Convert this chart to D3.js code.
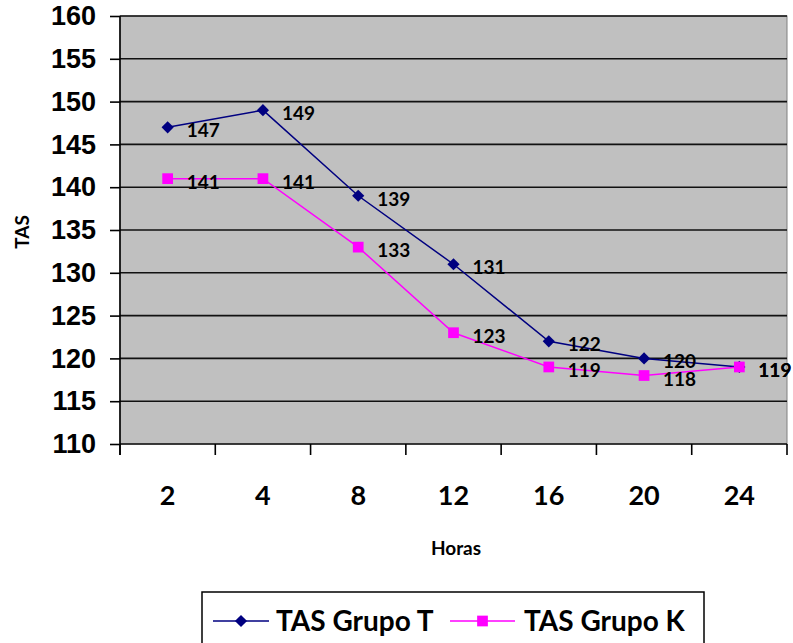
<!DOCTYPE html>
<html>
<head>
<meta charset="utf-8">
<script src="https://cdn.jsdelivr.net/npm/d3@7"></script>
<style>
  html, body { margin: 0; padding: 0; background: #fff; }
  svg { display: block; font-family: Lato, "Open Sans", sans-serif; font-weight: bold; }
</style>
</head>
<body>
<svg id="chart" width="793" height="643"></svg>
<script>
// Hours after the procedure
const horas = ["2", "4", "8", "12", "16", "20", "24"];
// Systolic pressure (TAS) per group
const tasGrupoT = [147, 149, 139, 131, 122, 120, 119];
const tasGrupoK = [141, 141, 133, 123, 119, 118, 119];
const yTicks = [110, 115, 120, 125, 130, 135, 140, 145, 150, 155, 160];

const series = [
  { name: "TAS Grupo T", values: tasGrupoT, color: "#000080", shape: "diamond" },
  { name: "TAS Grupo K", values: tasGrupoK, color: "#FF00FF", shape: "square" }
];

const svg = d3.select("#chart");
const plot = { left: 120, right: 787, top: 16, bottom: 444 };

const x = d3.scaleBand().domain(horas).range([plot.left, plot.right]).padding(0);
const y = d3.scaleLinear().domain([110, 160]).range([plot.bottom, plot.top]);
const cx = h => x(h) + x.bandwidth() / 2;

// plot background
svg.append("rect")
  .attr("x", plot.left).attr("y", plot.top)
  .attr("width", plot.right - plot.left).attr("height", plot.bottom - plot.top)
  .attr("fill", "#C0C0C0")
  .attr("stroke", "#808080").attr("stroke-width", 1);

// horizontal gridlines
svg.append("g").selectAll("line").data(yTicks).join("line")
  .attr("x1", plot.left).attr("x2", plot.right)
  .attr("y1", d => y(d)).attr("y2", d => y(d))
  .attr("stroke", "#111").attr("stroke-width", 1.6);

// y axis
const yAxis = svg.append("g").attr("transform", `translate(${plot.left},0)`)
  .call(d3.axisLeft(y).tickValues(yTicks).tickSize(10).tickPadding(14).tickFormat(d3.format("d")));
yAxis.select(".domain").remove();
yAxis.selectAll(".tick line").attr("stroke", "#000").attr("stroke-width", 1.6);
yAxis.selectAll(".tick text").attr("font-size", 27).attr("fill", "#000").attr("font-weight", "bold");
svg.append("line")
  .attr("x1", plot.left).attr("x2", plot.left)
  .attr("y1", plot.top).attr("y2", plot.bottom + 11)
  .attr("stroke", "#000").attr("stroke-width", 1.6);

// x axis: ticks at category boundaries, labels centred in each band
const bounds = horas.map(h => x(h)).concat([plot.right]);
svg.append("g").selectAll("line").data(bounds).join("line")
  .attr("x1", d => d).attr("x2", d => d)
  .attr("y1", plot.bottom).attr("y2", plot.bottom + 11)
  .attr("stroke", "#000").attr("stroke-width", 1.6);
svg.append("g").selectAll("text").data(horas).join("text")
  .attr("x", d => cx(d)).attr("y", 505)
  .attr("text-anchor", "middle").attr("font-size", 27).attr("fill", "#000")
  .text(d => d);

// axis titles
svg.append("text").attr("x", 456).attr("y", 555)
  .attr("text-anchor", "middle").attr("font-size", 19).text("Horas");
svg.append("text")
  .attr("transform", "translate(29,232) rotate(-90)")
  .attr("text-anchor", "middle").attr("font-size", 19).text("TAS");

// marker shapes
const symbolOf = s => s === "diamond"
  ? d3.symbol().type(d3.symbolDiamond2).size(95)
  : d3.symbol().type(d3.symbolSquare).size(115);

// series lines, markers and value labels
series.forEach(s => {
  const pts = horas.map((h, i) => [cx(h), y(s.values[i])]);
  svg.append("path")
    .attr("d", d3.line()(pts))
    .attr("fill", "none").attr("stroke", s.color).attr("stroke-width", 1.5);
  svg.append("g").selectAll("path").data(pts).join("path")
    .attr("transform", d => `translate(${d[0]},${d[1]})`)
    .attr("d", symbolOf(s.shape)())
    .attr("fill", s.color);
});
series.forEach(s => {
  svg.append("g").selectAll("text").data(horas).join("text")
    .attr("x", h => cx(h) + 19)
    .attr("y", (h, i) => y(s.values[i]) + 10)
    .attr("font-size", 19).attr("fill", "#000")
    .text((h, i) => s.values[i]);
});

// legend
const lg = svg.append("g");
lg.append("rect").attr("x", 202).attr("y", 592).attr("width", 502).attr("height", 60)
  .attr("fill", "#fff").attr("stroke", "#000").attr("stroke-width", 1.5);
const legendPos = [{ x0: 213, x1: 269, tx: 276 }, { x0: 450, x1: 515, tx: 524 }];
series.forEach((s, i) => {
  const p = legendPos[i];
  lg.append("line").attr("x1", p.x0).attr("x2", p.x1).attr("y1", 621).attr("y2", 621)
    .attr("stroke", s.color).attr("stroke-width", 1.5);
  lg.append("path").attr("transform", `translate(${(p.x0 + p.x1) / 2},621)`)
    .attr("d", symbolOf(s.shape)()).attr("fill", s.color);
  lg.append("text").attr("x", p.tx).attr("y", 631).attr("font-size", 28).attr("fill", "#000")
    .text(s.name);
});
</script>
</body>
</html>
